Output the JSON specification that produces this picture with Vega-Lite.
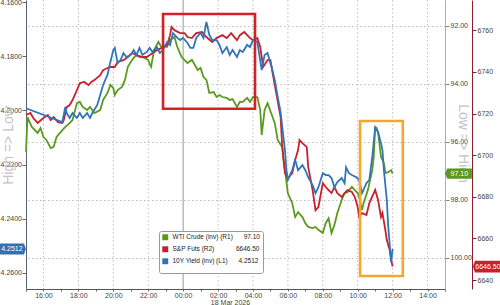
{
  "$schema": "https://vega.github.io/schema/vega-lite/v6.json",
  "width": 419,
  "height": 289,
  "autosize": {"type": "none"},
  "padding": {"left": 26, "top": 0, "right": 55, "bottom": 16},
  "background": "white",
  "config": {
    "font": "Liberation Sans, Arial",
    "view": {"stroke": null},
    "axis": {"labelFont": "Liberation Sans, Arial", "labelFontSize": 7, "labelColor": "#444444", "domainColor": "#666666", "tickColor": "#666666", "labelPadding": 1},
    "legend": {"symbolSize": 6, "symbolStrokeWidth": 3.5}
  },
  "datasets": {
    "wti": [
      {"t": "2026-03-17T15:00", "v": 96.36}, {"t": "2026-03-17T15:05", "v": 95.15}, {"t": "2026-03-17T15:20", "v": 95.49}, {"t": "2026-03-17T15:40", "v": 95.70},
      {"t": "2026-03-17T15:50", "v": 95.53}, {"t": "2026-03-17T16:00", "v": 95.84}, {"t": "2026-03-17T16:10", "v": 95.94}, {"t": "2026-03-17T16:25", "v": 96.22},
      {"t": "2026-03-17T16:35", "v": 96.18}, {"t": "2026-03-17T16:45", "v": 95.84}, {"t": "2026-03-17T17:05", "v": 95.60}, {"t": "2026-03-17T17:15", "v": 95.49},
      {"t": "2026-03-17T17:30", "v": 95.36}, {"t": "2026-03-17T17:40", "v": 95.25}, {"t": "2026-03-17T17:55", "v": 94.67}, {"t": "2026-03-17T18:05", "v": 94.63},
      {"t": "2026-03-17T18:15", "v": 94.80}, {"t": "2026-03-17T18:30", "v": 94.91}, {"t": "2026-03-17T18:40", "v": 94.80}, {"t": "2026-03-17T18:55", "v": 95.01},
      {"t": "2026-03-17T19:15", "v": 94.91}, {"t": "2026-03-17T19:25", "v": 94.56}, {"t": "2026-03-17T19:40", "v": 94.32}, {"t": "2026-03-17T19:50", "v": 94.04},
      {"t": "2026-03-17T20:00", "v": 94.15}, {"t": "2026-03-17T20:05", "v": 94.39}, {"t": "2026-03-17T20:15", "v": 94.22}, {"t": "2026-03-17T20:30", "v": 94.11},
      {"t": "2026-03-17T20:40", "v": 93.87}, {"t": "2026-03-17T20:50", "v": 93.42}, {"t": "2026-03-17T21:00", "v": 93.25}, {"t": "2026-03-17T21:10", "v": 93.11},
      {"t": "2026-03-17T21:20", "v": 93.01}, {"t": "2026-03-17T21:30", "v": 93.08}, {"t": "2026-03-17T21:40", "v": 93.08}, {"t": "2026-03-17T22:00", "v": 93.18},
      {"t": "2026-03-17T22:05", "v": 93.32}, {"t": "2026-03-17T22:10", "v": 93.42}, {"t": "2026-03-17T22:20", "v": 92.84}, {"t": "2026-03-17T22:35", "v": 92.56},
      {"t": "2026-03-17T22:45", "v": 92.73}, {"t": "2026-03-17T23:05", "v": 92.73}, {"t": "2026-03-17T23:15", "v": 92.49}, {"t": "2026-03-17T23:30", "v": 92.39},
      {"t": "2026-03-17T23:40", "v": 92.73}, {"t": "2026-03-17T23:55", "v": 93.08}, {"t": "2026-03-18T00:15", "v": 93.29}, {"t": "2026-03-18T00:30", "v": 93.18},
      {"t": "2026-03-18T00:50", "v": 93.53}, {"t": "2026-03-18T01:00", "v": 93.46}, {"t": "2026-03-18T01:10", "v": 93.77}, {"t": "2026-03-18T01:20", "v": 93.87},
      {"t": "2026-03-18T01:30", "v": 94.32}, {"t": "2026-03-18T01:45", "v": 94.29}, {"t": "2026-03-18T01:55", "v": 94.46}, {"t": "2026-03-18T02:05", "v": 94.39},
      {"t": "2026-03-18T02:15", "v": 94.46}, {"t": "2026-03-18T02:30", "v": 94.49}, {"t": "2026-03-18T02:40", "v": 94.56}, {"t": "2026-03-18T02:50", "v": 94.53},
      {"t": "2026-03-18T03:05", "v": 94.80}, {"t": "2026-03-18T03:15", "v": 94.63}, {"t": "2026-03-18T03:25", "v": 94.63}, {"t": "2026-03-18T03:40", "v": 94.49},
      {"t": "2026-03-18T03:50", "v": 94.63}, {"t": "2026-03-18T04:00", "v": 94.46}, {"t": "2026-03-18T04:15", "v": 94.46}, {"t": "2026-03-18T04:25", "v": 94.91},
      {"t": "2026-03-18T04:30", "v": 95.77}, {"t": "2026-03-18T04:40", "v": 94.91}, {"t": "2026-03-18T04:50", "v": 94.67}, {"t": "2026-03-18T05:05", "v": 95.08},
      {"t": "2026-03-18T05:15", "v": 95.36}, {"t": "2026-03-18T05:25", "v": 95.94}, {"t": "2026-03-18T05:40", "v": 96.18}, {"t": "2026-03-18T05:50", "v": 96.98},
      {"t": "2026-03-18T06:00", "v": 97.78}, {"t": "2026-03-18T06:15", "v": 98.12}, {"t": "2026-03-18T06:25", "v": 98.60}, {"t": "2026-03-18T06:35", "v": 98.43},
      {"t": "2026-03-18T06:50", "v": 98.60}, {"t": "2026-03-18T07:00", "v": 98.81}, {"t": "2026-03-18T07:10", "v": 98.94}, {"t": "2026-03-18T07:25", "v": 98.98},
      {"t": "2026-03-18T07:35", "v": 98.94}, {"t": "2026-03-18T07:45", "v": 99.04}, {"t": "2026-03-18T08:00", "v": 99.15}, {"t": "2026-03-18T08:10", "v": 98.81},
      {"t": "2026-03-18T08:20", "v": 98.64}, {"t": "2026-03-18T08:30", "v": 99.15}, {"t": "2026-03-18T08:40", "v": 98.87}, {"t": "2026-03-18T08:50", "v": 98.46},
      {"t": "2026-03-18T09:05", "v": 98.01}, {"t": "2026-03-18T09:15", "v": 97.77}, {"t": "2026-03-18T09:25", "v": 97.74}, {"t": "2026-03-18T09:40", "v": 97.56},
      {"t": "2026-03-18T09:50", "v": 97.67}, {"t": "2026-03-18T10:00", "v": 97.77}, {"t": "2026-03-18T10:05", "v": 97.91}, {"t": "2026-03-18T10:15", "v": 98.36},
      {"t": "2026-03-18T10:20", "v": 98.12}, {"t": "2026-03-18T10:35", "v": 97.67}, {"t": "2026-03-18T10:50", "v": 96.98}, {"t": "2026-03-18T10:55", "v": 96.53},
      {"t": "2026-03-18T11:00", "v": 95.49}, {"t": "2026-03-18T11:05", "v": 95.53}, {"t": "2026-03-18T11:10", "v": 95.67}, {"t": "2026-03-18T11:20", "v": 96.53},
      {"t": "2026-03-18T11:30", "v": 96.74}, {"t": "2026-03-18T11:35", "v": 97.08}, {"t": "2026-03-18T11:45", "v": 97.05}, {"t": "2026-03-18T11:55", "v": 96.98},
      {"t": "2026-03-18T12:00", "v": 97.10}
    ],
    "spx": [
      {"t": "2026-03-17T15:00", "v": 6719.3}, {"t": "2026-03-17T15:15", "v": 6720.3}, {"t": "2026-03-17T15:25", "v": 6717.9}, {"t": "2026-03-17T15:40", "v": 6715.5},
      {"t": "2026-03-17T16:00", "v": 6717.9}, {"t": "2026-03-17T16:15", "v": 6719.3}, {"t": "2026-03-17T16:25", "v": 6716.9}, {"t": "2026-03-17T16:35", "v": 6718.3},
      {"t": "2026-03-17T16:50", "v": 6715.9}, {"t": "2026-03-17T17:05", "v": 6715.5}, {"t": "2026-03-17T17:10", "v": 6716.9}, {"t": "2026-03-17T17:20", "v": 6723.1},
      {"t": "2026-03-17T17:30", "v": 6724.1}, {"t": "2026-03-17T17:40", "v": 6726.5}, {"t": "2026-03-17T17:55", "v": 6731.3}, {"t": "2026-03-17T18:05", "v": 6734.7},
      {"t": "2026-03-17T18:20", "v": 6735.2}, {"t": "2026-03-17T18:35", "v": 6733.7}, {"t": "2026-03-17T18:45", "v": 6735.2}, {"t": "2026-03-17T18:55", "v": 6736.1},
      {"t": "2026-03-17T19:15", "v": 6738.5}, {"t": "2026-03-17T19:25", "v": 6740.9}, {"t": "2026-03-17T19:40", "v": 6741.9}, {"t": "2026-03-17T19:50", "v": 6742.4},
      {"t": "2026-03-17T20:05", "v": 6742.4}, {"t": "2026-03-17T20:15", "v": 6744.8}, {"t": "2026-03-17T20:35", "v": 6745.7}, {"t": "2026-03-17T20:50", "v": 6747.2},
      {"t": "2026-03-17T21:05", "v": 6749.1}, {"t": "2026-03-17T21:20", "v": 6748.1}, {"t": "2026-03-17T21:40", "v": 6747.2}, {"t": "2026-03-17T21:55", "v": 6747.2},
      {"t": "2026-03-17T22:15", "v": 6749.1}, {"t": "2026-03-17T22:30", "v": 6750.5}, {"t": "2026-03-17T22:45", "v": 6751.5}, {"t": "2026-03-17T23:05", "v": 6752.9},
      {"t": "2026-03-17T23:15", "v": 6757.7}, {"t": "2026-03-17T23:20", "v": 6761.6}, {"t": "2026-03-17T23:30", "v": 6760.1}, {"t": "2026-03-17T23:50", "v": 6758.7},
      {"t": "2026-03-18T00:05", "v": 6758.7}, {"t": "2026-03-18T00:15", "v": 6756.8}, {"t": "2026-03-18T00:30", "v": 6756.3}, {"t": "2026-03-18T00:45", "v": 6758.7},
      {"t": "2026-03-18T01:05", "v": 6759.2}, {"t": "2026-03-18T01:20", "v": 6756.8}, {"t": "2026-03-18T01:40", "v": 6754.4}, {"t": "2026-03-18T01:55", "v": 6756.3},
      {"t": "2026-03-18T02:15", "v": 6757.7}, {"t": "2026-03-18T02:30", "v": 6756.3}, {"t": "2026-03-18T02:45", "v": 6758.7}, {"t": "2026-03-18T03:05", "v": 6755.3},
      {"t": "2026-03-18T03:15", "v": 6757.7}, {"t": "2026-03-18T03:30", "v": 6759.2}, {"t": "2026-03-18T03:50", "v": 6756.3}, {"t": "2026-03-18T04:00", "v": 6755.3},
      {"t": "2026-03-18T04:15", "v": 6756.3}, {"t": "2026-03-18T04:25", "v": 6752.0}, {"t": "2026-03-18T04:35", "v": 6742.4}, {"t": "2026-03-18T04:50", "v": 6745.7},
      {"t": "2026-03-18T05:00", "v": 6745.7}, {"t": "2026-03-18T05:10", "v": 6737.6}, {"t": "2026-03-18T05:20", "v": 6729.9}, {"t": "2026-03-18T05:35", "v": 6718.3},
      {"t": "2026-03-18T05:40", "v": 6705.8}, {"t": "2026-03-18T05:45", "v": 6697.7}, {"t": "2026-03-18T05:50", "v": 6691.4}, {"t": "2026-03-18T06:00", "v": 6689.0},
      {"t": "2026-03-18T06:15", "v": 6691.4}, {"t": "2026-03-18T06:25", "v": 6697.7}, {"t": "2026-03-18T06:35", "v": 6702.5}, {"t": "2026-03-18T06:40", "v": 6707.3},
      {"t": "2026-03-18T06:50", "v": 6705.8}, {"t": "2026-03-18T07:05", "v": 6703.9}, {"t": "2026-03-18T07:10", "v": 6694.3}, {"t": "2026-03-18T07:25", "v": 6683.2},
      {"t": "2026-03-18T07:35", "v": 6673.6}, {"t": "2026-03-18T07:45", "v": 6675.1}, {"t": "2026-03-18T08:00", "v": 6686.6}, {"t": "2026-03-18T08:10", "v": 6684.7},
      {"t": "2026-03-18T08:20", "v": 6683.2}, {"t": "2026-03-18T08:30", "v": 6681.8}, {"t": "2026-03-18T08:40", "v": 6684.7}, {"t": "2026-03-18T08:50", "v": 6681.8},
      {"t": "2026-03-18T09:05", "v": 6679.9}, {"t": "2026-03-18T09:15", "v": 6681.8}, {"t": "2026-03-18T09:25", "v": 6683.2}, {"t": "2026-03-18T09:40", "v": 6682.3},
      {"t": "2026-03-18T09:50", "v": 6679.9}, {"t": "2026-03-18T10:00", "v": 6675.1}, {"t": "2026-03-18T10:05", "v": 6670.3}, {"t": "2026-03-18T10:15", "v": 6672.2},
      {"t": "2026-03-18T10:30", "v": 6671.3}, {"t": "2026-03-18T10:40", "v": 6677.0}, {"t": "2026-03-18T11:00", "v": 6683.3}, {"t": "2026-03-18T11:10", "v": 6678.5},
      {"t": "2026-03-18T11:20", "v": 6670.3}, {"t": "2026-03-18T11:25", "v": 6672.2}, {"t": "2026-03-18T11:35", "v": 6664.0}, {"t": "2026-03-18T11:40", "v": 6659.2},
      {"t": "2026-03-18T11:50", "v": 6654.4}, {"t": "2026-03-18T11:55", "v": 6649.6}, {"t": "2026-03-18T12:00", "v": 6646.5}
    ],
    "y10": [
      {"t": "2026-03-17T15:00", "v": 4.1992}, {"t": "2026-03-17T17:05", "v": 4.2043}, {"t": "2026-03-17T17:15", "v": 4.1987}, {"t": "2026-03-17T17:20", "v": 4.2010},
      {"t": "2026-03-17T17:30", "v": 4.2028}, {"t": "2026-03-17T17:40", "v": 4.2010}, {"t": "2026-03-17T17:55", "v": 4.2028}, {"t": "2026-03-17T18:05", "v": 4.2010},
      {"t": "2026-03-17T18:15", "v": 4.2028}, {"t": "2026-03-17T18:30", "v": 4.2010}, {"t": "2026-03-17T18:40", "v": 4.2028}, {"t": "2026-03-17T18:50", "v": 4.2006},
      {"t": "2026-03-17T19:05", "v": 4.1980}, {"t": "2026-03-17T19:15", "v": 4.1943}, {"t": "2026-03-17T19:25", "v": 4.1906}, {"t": "2026-03-17T19:40", "v": 4.1869},
      {"t": "2026-03-17T19:50", "v": 4.1821}, {"t": "2026-03-17T20:00", "v": 4.1777}, {"t": "2026-03-17T20:05", "v": 4.1769}, {"t": "2026-03-17T20:15", "v": 4.1825},
      {"t": "2026-03-17T20:25", "v": 4.1814}, {"t": "2026-03-17T20:35", "v": 4.1788}, {"t": "2026-03-17T20:45", "v": 4.1803}, {"t": "2026-03-17T21:00", "v": 4.1795},
      {"t": "2026-03-17T21:10", "v": 4.1777}, {"t": "2026-03-17T21:20", "v": 4.1795}, {"t": "2026-03-17T21:30", "v": 4.1769}, {"t": "2026-03-17T21:40", "v": 4.1795},
      {"t": "2026-03-17T21:55", "v": 4.1784}, {"t": "2026-03-17T22:05", "v": 4.1769}, {"t": "2026-03-17T22:15", "v": 4.1784}, {"t": "2026-03-17T22:30", "v": 4.1766},
      {"t": "2026-03-17T22:40", "v": 4.1788}, {"t": "2026-03-17T22:50", "v": 4.1777}, {"t": "2026-03-17T23:05", "v": 4.1747}, {"t": "2026-03-17T23:15", "v": 4.1758},
      {"t": "2026-03-17T23:25", "v": 4.1714}, {"t": "2026-03-17T23:40", "v": 4.1732}, {"t": "2026-03-17T23:50", "v": 4.1740}, {"t": "2026-03-18T00:00", "v": 4.1732},
      {"t": "2026-03-18T00:15", "v": 4.1751}, {"t": "2026-03-18T00:25", "v": 4.1769}, {"t": "2026-03-18T00:35", "v": 4.1769}, {"t": "2026-03-18T00:45", "v": 4.1732},
      {"t": "2026-03-18T01:00", "v": 4.1714}, {"t": "2026-03-18T01:10", "v": 4.1732}, {"t": "2026-03-18T01:20", "v": 4.1673}, {"t": "2026-03-18T01:30", "v": 4.1721},
      {"t": "2026-03-18T01:40", "v": 4.1740}, {"t": "2026-03-18T01:55", "v": 4.1740}, {"t": "2026-03-18T02:05", "v": 4.1758}, {"t": "2026-03-18T02:15", "v": 4.1788},
      {"t": "2026-03-18T02:30", "v": 4.1766}, {"t": "2026-03-18T02:40", "v": 4.1795}, {"t": "2026-03-18T02:50", "v": 4.1777}, {"t": "2026-03-18T03:05", "v": 4.1803},
      {"t": "2026-03-18T03:15", "v": 4.1777}, {"t": "2026-03-18T03:25", "v": 4.1784}, {"t": "2026-03-18T03:40", "v": 4.1758}, {"t": "2026-03-18T03:50", "v": 4.1766},
      {"t": "2026-03-18T04:00", "v": 4.1740}, {"t": "2026-03-18T04:15", "v": 4.1747}, {"t": "2026-03-18T04:30", "v": 4.1851}, {"t": "2026-03-18T04:40", "v": 4.1795},
      {"t": "2026-03-18T04:50", "v": 4.1788}, {"t": "2026-03-18T05:05", "v": 4.1843}, {"t": "2026-03-18T05:15", "v": 4.1888}, {"t": "2026-03-18T05:25", "v": 4.1950},
      {"t": "2026-03-18T05:35", "v": 4.2006}, {"t": "2026-03-18T05:40", "v": 4.2054}, {"t": "2026-03-18T05:50", "v": 4.2147}, {"t": "2026-03-18T05:55", "v": 4.2221},
      {"t": "2026-03-18T06:00", "v": 4.2257}, {"t": "2026-03-18T06:15", "v": 4.2221}, {"t": "2026-03-18T06:25", "v": 4.2183}, {"t": "2026-03-18T06:35", "v": 4.2221},
      {"t": "2026-03-18T06:50", "v": 4.2202}, {"t": "2026-03-18T07:00", "v": 4.2221}, {"t": "2026-03-18T07:10", "v": 4.2247}, {"t": "2026-03-18T07:25", "v": 4.2276},
      {"t": "2026-03-18T07:35", "v": 4.2306}, {"t": "2026-03-18T07:45", "v": 4.2284}, {"t": "2026-03-18T08:00", "v": 4.2232}, {"t": "2026-03-18T08:10", "v": 4.2239},
      {"t": "2026-03-18T08:20", "v": 4.2239}, {"t": "2026-03-18T08:30", "v": 4.2250}, {"t": "2026-03-18T08:40", "v": 4.2284}, {"t": "2026-03-18T08:50", "v": 4.2265},
      {"t": "2026-03-18T09:05", "v": 4.2250}, {"t": "2026-03-18T09:15", "v": 4.2269}, {"t": "2026-03-18T09:20", "v": 4.2210}, {"t": "2026-03-18T09:30", "v": 4.2232},
      {"t": "2026-03-18T09:40", "v": 4.2239}, {"t": "2026-03-18T09:55", "v": 4.2247}, {"t": "2026-03-18T10:05", "v": 4.2257}, {"t": "2026-03-18T10:15", "v": 4.2306},
      {"t": "2026-03-18T10:30", "v": 4.2269}, {"t": "2026-03-18T10:40", "v": 4.2257}, {"t": "2026-03-18T10:50", "v": 4.2172}, {"t": "2026-03-18T11:00", "v": 4.2066},
      {"t": "2026-03-18T11:10", "v": 4.2080}, {"t": "2026-03-18T11:20", "v": 4.2121}, {"t": "2026-03-18T11:25", "v": 4.2147}, {"t": "2026-03-18T11:30", "v": 4.2221},
      {"t": "2026-03-18T11:40", "v": 4.2331}, {"t": "2026-03-18T11:45", "v": 4.2431}, {"t": "2026-03-18T11:55", "v": 4.2561}, {"t": "2026-03-18T12:00", "v": 4.2512}
    ]
  },
  "layer": [
    {
      "data": {"values": [
        {"t": "2026-03-17T16:00"}, {"t": "2026-03-17T18:00"}, {"t": "2026-03-17T20:00"}, {"t": "2026-03-17T22:00"},
        {"t": "2026-03-18T02:00"}, {"t": "2026-03-18T04:00"}, {"t": "2026-03-18T06:00"}, {"t": "2026-03-18T08:00"},
        {"t": "2026-03-18T10:00"}, {"t": "2026-03-18T12:00"}, {"t": "2026-03-18T14:00"}
      ]},
      "mark": {"type": "rule", "color": "#bdbdbd", "strokeWidth": 1, "strokeDash": [1.5, 2.5]},
      "encoding": {"x": {"field": "t", "type": "temporal"}}
    },
    {
      "data": {"values": [{"t": "2026-03-18T00:00"}]},
      "mark": {"type": "rule", "color": "#9a9a9a", "strokeWidth": 1},
      "encoding": {"x": {"field": "t", "type": "temporal"}}
    },
    {
      "data": {"name": "wti"},
      "mark": {"type": "line", "strokeWidth": 1.8},
      "encoding": {
        "x": {
          "field": "t", "type": "temporal",
          "scale": {"domain": ["2026-03-17T15:00", "2026-03-18T15:00"]},
          "axis": {
            "title": "18 Mar 2026", "titleX": 204, "titleY": 13, "titleFontSize": 7, "titleFontWeight": "normal", "titleColor": "#444444",
            "titleAlign": "center", "titleBaseline": "middle",
            "tickCount": 24,
            "labelExpr": "hours(datum.value) % 2 == 0 ? timeFormat(datum.value, '%H:%M') : ''",
            "labelFontSize": 7, "labelPadding": 0, "tickSize": 2, "labelFlush": false, "labelOverlap": false,
            "domainColor": "#555555", "grid": false
          }
        },
        "y": {
          "field": "v", "type": "quantitative",
          "scale": {"domain": [91.114, 101.08], "reverse": true, "nice": false, "zero": false},
          "axis": {
            "orient": "right", "values": [92, 94, 96, 98, 100], "format": ".2f",
            "tickSize": 4, "domainColor": "#b0b096", "tickColor": "#8a8a70",
            "grid": true, "gridColor": "#bdbdbd", "gridDash": [1.5, 2.5],
            "title": "Low =\u003e High", "titleAngle": 90, "titleX": 17, "titleY": 143, "titleFontSize": 14,
            "titleFontWeight": "normal", "titleColor": "#c4c4c4", "titleAlign": "center", "titleBaseline": "middle"
          }
        },
        "color": {
          "datum": "WTI", "type": "nominal",
          "scale": {"domain": ["WTI", "SPX", "10Y"], "range": ["#5c9a1f", "#c8202e", "#3274b8"]},
          "legend": {
            "orient": "none", "legendX": 133, "legendY": 231, "direction": "vertical", "title": null,
            "strokeColor": "#9a9a9a", "fillColor": "white", "padding": 3, "cornerRadius": 2,
            "symbolType": "square", "symbolSize": 6, "symbolStrokeWidth": 3.5, "rowPadding": -6, "labelOffset": 4,
            "labelFontSize": 6.5, "labelColor": "#222222", "labelLimit": 300,
            "labelExpr": "datum.value == 'WTI' ? 'WTI Crude (inv) (R1)\u00a0\u00a0\u00a0\u00a0\u00a0\u00a097.10' : datum.value == 'SPX' ? 'S\u0026P Futs (R2)\u00a0\u00a0\u00a0\u00a0\u00a0\u00a0\u00a0\u00a0\u00a0\u00a0\u00a0\u00a06646.50' : '10Y Yield (inv) (L1)\u00a0\u00a0\u00a0\u00a0\u00a0\u00a04.2512'"
          }
        }
      }
    },
    {
      "data": {"name": "spx"},
      "mark": {"type": "line", "strokeWidth": 1.8},
      "encoding": {
        "x": {"field": "t", "type": "temporal"},
        "y": {
          "field": "v", "type": "quantitative",
          "scale": {"domain": [6635.7, 6774.6], "nice": false, "zero": false},
          "axis": {
            "orient": "right", "offset": 27,
            "values": [6640, 6660, 6680, 6700, 6720, 6740, 6760], "format": "d",
            "tickSize": 4, "domainColor": "#8c1d2c", "tickColor": "#8c1d2c", "grid": false, "title": null
          }
        },
        "color": {"datum": "SPX", "type": "nominal"}
      }
    },
    {
      "data": {"name": "y10"},
      "mark": {"type": "line", "strokeWidth": 1.8},
      "encoding": {
        "x": {"field": "t", "type": "temporal"},
        "y": {
          "field": "v", "type": "quantitative",
          "scale": {"domain": [4.1592, 4.266], "reverse": true, "nice": false, "zero": false},
          "axis": {
            "orient": "left", "values": [4.16, 4.18, 4.2, 4.22, 4.24, 4.26], "format": ".4f",
            "tickSize": 4, "labelPadding": 0.5, "domainColor": "#5a6070", "grid": false,
            "title": "High =\u003e Low", "titleAngle": -90, "titleX": -18, "titleY": 145, "titleFontSize": 14,
            "titleFontWeight": "normal", "titleColor": "#c4c4c4", "titleAlign": "center", "titleBaseline": "middle"
          }
        },
        "color": {"datum": "10Y", "type": "nominal"}
      }
    },
    {
      "data": {"values": [{"t": "2026-03-18T15:46", "v": 97.1, "lab": "97.10"}]},
      "mark": {"type": "point", "shape": "M-1,0L-0.82,-0.38L1,-0.38L1,0.38L-0.82,0.38Z", "size": 729, "filled": true, "color": "#5c9a1f", "opacity": 1},
      "encoding": {
        "x": {"field": "t", "type": "temporal"},
        "y": {"field": "v", "type": "quantitative", "scale": {"domain": [91.114, 101.08], "reverse": true, "nice": false, "zero": false}, "axis": null}
      }
    },
    {
      "data": {"values": [{"t": "2026-03-18T15:46", "v": 97.1, "lab": "97.10"}]},
      "mark": {"type": "text", "color": "white", "fontSize": 7, "align": "center", "baseline": "middle", "dx": 1},
      "encoding": {
        "x": {"field": "t", "type": "temporal"},
        "y": {"field": "v", "type": "quantitative", "scale": {"domain": [91.114, 101.08], "reverse": true, "nice": false, "zero": false}, "axis": null},
        "text": {"field": "lab", "type": "nominal"}
      }
    },
    {
      "data": {"values": [{"t": "2026-03-18T17:24", "v": 6646.5, "lab": "6646.50"}]},
      "mark": {"type": "point", "shape": "M-1,0L-0.85,-0.42L1,-0.42L1,0.42L-0.85,0.42Z", "size": 784, "filled": true, "color": "#c8202e", "opacity": 1},
      "encoding": {
        "x": {"field": "t", "type": "temporal"},
        "y": {"field": "v", "type": "quantitative", "scale": {"domain": [6635.7, 6774.6], "nice": false, "zero": false}, "axis": null}
      }
    },
    {
      "data": {"values": [{"t": "2026-03-18T17:24", "v": 6646.5, "lab": "6646.50"}]},
      "mark": {"type": "text", "color": "white", "fontSize": 7, "align": "center", "baseline": "middle", "dx": 1},
      "encoding": {
        "x": {"field": "t", "type": "temporal"},
        "y": {"field": "v", "type": "quantitative", "scale": {"domain": [6635.7, 6774.6], "nice": false, "zero": false}, "axis": null},
        "text": {"field": "lab", "type": "nominal"}
      }
    },
    {
      "data": {"values": [{"t": "2026-03-17T14:15", "v": 4.2512, "lab": "4.2512"}]},
      "mark": {"type": "point", "shape": "M-1,-0.42L0.85,-0.42L1,0L0.85,0.42L-1,0.42Z", "size": 676, "filled": true, "color": "#3070b4", "opacity": 1},
      "encoding": {
        "x": {"field": "t", "type": "temporal"},
        "y": {"field": "v", "type": "quantitative", "scale": {"domain": [4.1592, 4.266], "reverse": true, "nice": false, "zero": false}, "axis": null}
      }
    },
    {
      "data": {"values": [{"t": "2026-03-17T14:15", "v": 4.2512, "lab": "4.2512"}]},
      "mark": {"type": "text", "color": "white", "fontSize": 7, "align": "center", "baseline": "middle", "dx": -1},
      "encoding": {
        "x": {"field": "t", "type": "temporal"},
        "y": {"field": "v", "type": "quantitative", "scale": {"domain": [4.1592, 4.266], "reverse": true, "nice": false, "zero": false}, "axis": null},
        "text": {"field": "lab", "type": "nominal"}
      }
    },
    {
      "data": {"values": [
        {"start": "2026-03-17T22:51", "end": "2026-03-18T04:07", "top": 4.1644, "bottom": 4.1994, "box": "red"},
        {"start": "2026-03-18T10:08", "end": "2026-03-18T12:35", "top": 4.2039, "bottom": 4.2612, "box": "orange"}
      ]},
      "mark": {"type": "rect", "fill": "transparent", "strokeWidth": 2.6},
      "encoding": {
        "x": {"field": "start", "type": "temporal"},
        "x2": {"field": "end"},
        "y": {"field": "top", "type": "quantitative", "scale": {"domain": [4.1592, 4.266], "reverse": true, "nice": false, "zero": false}, "axis": null},
        "y2": {"field": "bottom"},
        "stroke": {"field": "box", "type": "nominal", "scale": {"domain": ["red", "orange"], "range": ["#d42027", "#f3a72e"]}, "legend": null}
      }
    }
  ],
  "resolve": {"scale": {"y": "independent"}, "axis": {"y": "independent"}}
}
